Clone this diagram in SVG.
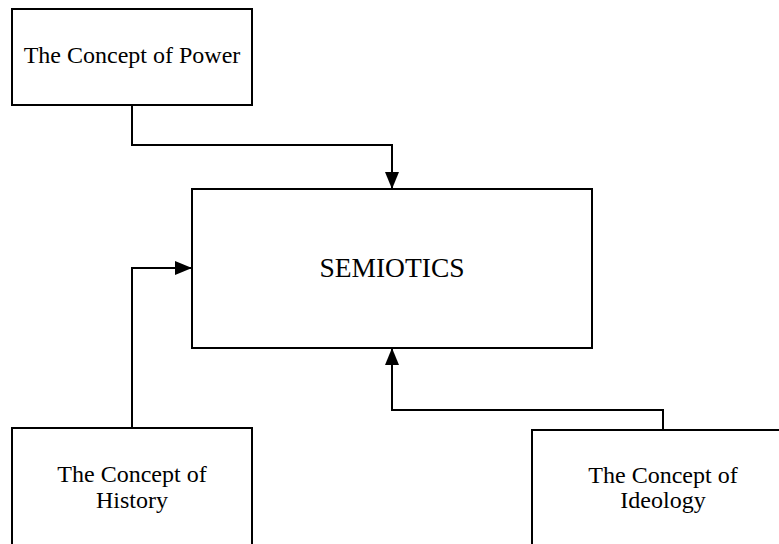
<svg xmlns="http://www.w3.org/2000/svg" width="779" height="544" viewBox="0 0 779 544">
  <style>
    .box { fill: #ffffff; stroke: #000000; stroke-width: 2; }
    .lbl { font-family: "Liberation Serif", "Times New Roman", serif; font-size: 24px; fill: #000000; text-anchor: middle; }
    .big { font-size: 27.5px; }
    .edge { fill: none; stroke: #000000; stroke-width: 2; }
  </style>
  <defs>
    <marker id="arrow" markerUnits="userSpaceOnUse" markerWidth="18" markerHeight="14" viewBox="0 0 18 14" refX="17" refY="7" orient="auto">
      <path d="M0,0 L17,7 L0,14 Z" fill="#000000"/>
    </marker>
  </defs>
  <rect width="779" height="544" fill="#ffffff"/>

  <g id="power">
    <rect class="box" x="12" y="9" width="240" height="96"/>
    <text class="lbl" x="132" y="63">The Concept of Power</text>
  </g>

  <g id="semiotics">
    <rect class="box" x="192" y="189" width="400" height="159"/>
    <text class="lbl big" x="392" y="277">SEMIOTICS</text>
  </g>

  <g id="history">
    <rect class="box" x="12" y="428" width="240" height="130"/>
    <text class="lbl" x="132" y="482">The Concept of</text>
    <text class="lbl" x="132" y="508">History</text>
  </g>

  <g id="ideology">
    <rect class="box" x="532" y="430" width="262" height="130"/>
    <text class="lbl" x="663" y="483">The Concept of</text>
    <text class="lbl" x="663" y="508">Ideology</text>
  </g>

  <g id="connectors">
    <path class="edge" d="M132,105 V145 H392 V189" marker-end="url(#arrow)"/>
    <path class="edge" d="M132,428 V268 H192" marker-end="url(#arrow)"/>
    <path class="edge" d="M663,430 V410 H392 V348" marker-end="url(#arrow)"/>
  </g>
</svg>
